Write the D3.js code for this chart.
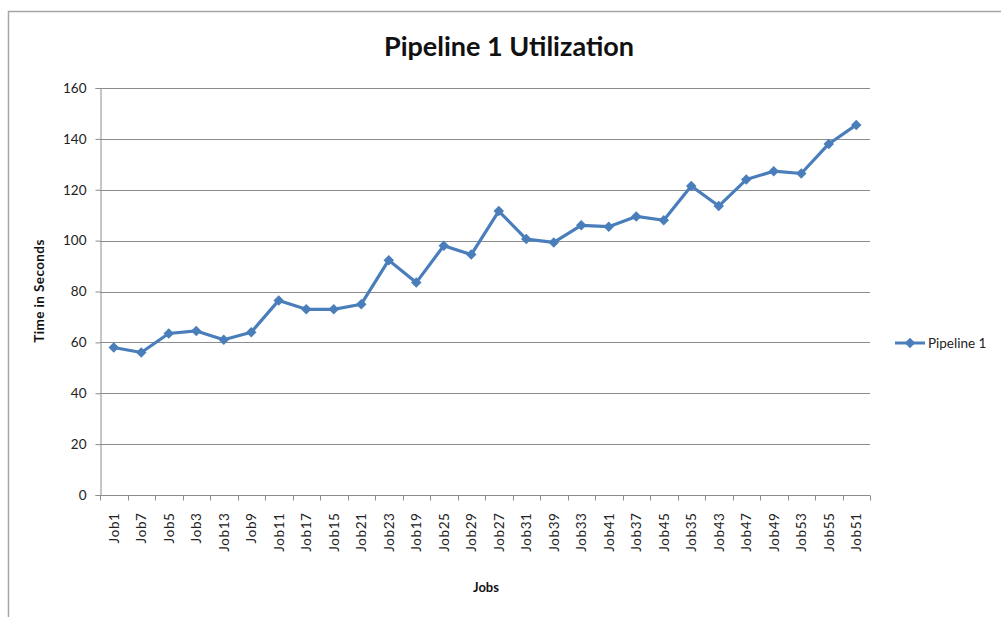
<!DOCTYPE html>
<html>
<head>
<meta charset="utf-8">
<script src="https://cdn.jsdelivr.net/npm/d3@7"></script>
<style>
  html, body { margin: 0; padding: 0; background: #fff; }
  svg { display: block; }
  text { font-family: Lato, "Open Sans", "Liberation Sans", sans-serif; }
</style>
</head>
<body>
<svg id="chart" width="1001" height="617"></svg>
<script>
// Job order as plotted along the x axis
const jobs = ["Job1","Job7","Job5","Job3","Job13","Job9","Job11","Job17","Job15","Job21",
              "Job23","Job19","Job25","Job29","Job27","Job31","Job39","Job33","Job41","Job37",
              "Job45","Job35","Job43","Job47","Job49","Job53","Job55","Job51"];
// Time in seconds for Pipeline 1
const pipeline1 = [58, 56, 63.5, 64.5, 61, 64, 76.5, 73, 73, 75,
                   92.3, 83.5, 98, 94.5, 111.6, 100.6, 99.3, 106, 105.5, 109.5,
                   108, 121.5, 113.6, 124, 127.3, 126.4, 138, 145.5];
const yTicks = [0, 20, 40, 60, 80, 100, 120, 140, 160];
const seriesName = "Pipeline 1";

const svg = d3.select("#chart");
const lineColor = "#4a7ebb";

// outer chart frame
svg.append("rect")
  .attr("x", 8.5).attr("y", 11.5)
  .attr("width", 1010).attr("height", 620)
  .attr("fill", "#fff").attr("stroke", "#a6a6a6").attr("stroke-width", 1.5);

const plot = { left: 100, right: 870, top: 88, bottom: 495 };

const x = d3.scaleBand().domain(jobs).range([plot.left, plot.right]);
const y = d3.scaleLinear().domain([0, 160]).range([plot.bottom, plot.top]);

// horizontal gridlines
svg.append("g")
  .selectAll("line")
  .data(yTicks.filter(d => d > 0))
  .join("line")
  .attr("x1", plot.left).attr("x2", plot.right)
  .attr("y1", d => Math.round(y(d)) + 0.5).attr("y2", d => Math.round(y(d)) + 0.5)
  .attr("stroke", "#8c8c8c").attr("stroke-width", 1);

// y axis
const yAxis = svg.append("g")
  .attr("transform", `translate(${plot.left + 0.5},0)`)
  .call(d3.axisLeft(y).tickValues(yTicks).tickSize(5).tickPadding(9));
yAxis.select(".domain").attr("stroke", "#8c8c8c");
yAxis.selectAll(".tick line").attr("stroke", "#8c8c8c");
yAxis.selectAll(".tick text")
  .attr("font-size", 13.5).attr("fill", "#222")
  .style("font-family", "Lato, 'Open Sans', sans-serif");

// x axis with boundary ticks between categories
const xAxisG = svg.append("g")
  .attr("transform", `translate(0,${plot.bottom + 0.5})`);
xAxisG.append("line")
  .attr("x1", plot.left).attr("x2", plot.right)
  .attr("stroke", "#8c8c8c");
xAxisG.selectAll("line.bt")
  .data(jobs.concat(["__end"]))
  .join("line")
  .attr("class", "bt")
  .attr("x1", (d, i) => Math.round(plot.left + i * x.step()) + 0.5)
  .attr("x2", (d, i) => Math.round(plot.left + i * x.step()) + 0.5)
  .attr("y1", 0).attr("y2", 5)
  .attr("stroke", "#8c8c8c");
xAxisG.selectAll("text")
  .data(jobs)
  .join("text")
  .attr("transform", d => `translate(${x(d) + x.bandwidth() / 2 + 5},17) rotate(-90)`)
  .attr("text-anchor", "end")
  .attr("font-size", 13.5)
  .attr("letter-spacing", 0.6)
  .attr("fill", "#222")
  .text(d => d);

// series line
const line = d3.line()
  .x((d, i) => x(jobs[i]) + x.bandwidth() / 2)
  .y(d => y(d));
svg.append("path")
  .datum(pipeline1)
  .attr("d", line)
  .attr("fill", "none")
  .attr("stroke", lineColor)
  .attr("stroke-width", 3.2)
  .attr("stroke-linejoin", "round");

// diamond markers: squares turned 45 degrees
const diamond = d3.symbol().type(d3.symbolSquare).size(55);
svg.append("g")
  .selectAll("path")
  .data(pipeline1)
  .join("path")
  .attr("transform", (d, i) => `translate(${x(jobs[i]) + x.bandwidth() / 2},${y(d)}) rotate(45)`)
  .attr("d", diamond)
  .attr("fill", lineColor);

// title
svg.append("text")
  .attr("x", 509).attr("y", 56)
  .attr("text-anchor", "middle")
  .attr("font-size", 27).attr("font-weight", "bold")
  .attr("fill", "#111")
  .text("Pipeline 1 Utilization");

// axis titles
svg.append("text")
  .attr("transform", "translate(44,291) rotate(-90)")
  .attr("text-anchor", "middle")
  .attr("font-size", 13.5).attr("font-weight", "bold")
  .attr("letter-spacing", 0.4)
  .attr("fill", "#111")
  .text("Time in Seconds");
svg.append("text")
  .attr("x", 486).attr("y", 592)
  .attr("text-anchor", "middle")
  .attr("font-size", 13).attr("font-weight", "bold")
  .attr("fill", "#111")
  .text("Jobs");

// legend
const lg = svg.append("g").attr("transform", "translate(895,343)");
lg.append("line").attr("x1", 0).attr("x2", 30).attr("y1", 0).attr("y2", 0)
  .attr("stroke", lineColor).attr("stroke-width", 3);
lg.append("path").attr("transform", "translate(15,0) rotate(45)").attr("d", diamond).attr("fill", lineColor);
lg.append("text").attr("x", 33).attr("y", 5)
  .attr("font-size", 13.5).attr("fill", "#222")
  .text(seriesName);
</script>
</body>
</html>
